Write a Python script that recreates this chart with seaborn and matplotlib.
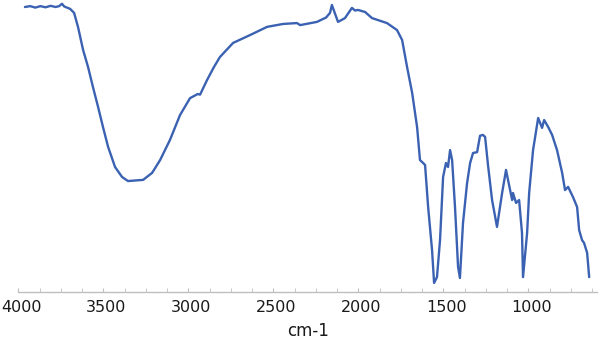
import numpy as np
import pandas as pd
import matplotlib
matplotlib.use("Agg")
import matplotlib.pyplot as plt
from matplotlib.ticker import MultipleLocator
from matplotlib.transforms import ScaledTranslation
import seaborn as sns

# IR spectrum (wavenumber in cm-1, transmittance in arbitrary %)
wavenumber = [3961, 3930, 3900, 3870, 3840, 3810, 3780, 3760, 3743, 3730, 3714, 3696, 3672,
              3649, 3619, 3590, 3561, 3531, 3502, 3472, 3431, 3390, 3355, 3310, 3266, 3213,
              3166, 3108, 3049, 2990, 2945, 2931, 2890, 2850, 2814, 2737, 2637, 2537, 2443,
              2361, 2343, 2244, 2190, 2167, 2156, 2120, 2079, 2038, 2020, 2003, 1961, 1920,
              1832, 1773, 1743, 1714, 1684, 1655, 1638, 1620, 1608, 1590, 1567, 1555, 1538,
              1520, 1502, 1485, 1473, 1461, 1449, 1432, 1414, 1403, 1385, 1361, 1343, 1326,
              1302, 1285, 1268, 1255, 1238, 1214, 1185, 1155, 1132, 1108, 1096, 1091, 1073,
              1055, 1038, 1032, 1008, 996, 973, 943, 920, 908, 884, 861, 832, 802, 785, 767,
              738, 714, 702, 685, 673, 655, 643]
transmittance = [97.6, 97.9, 97.4, 97.9, 97.5, 98.0, 97.6, 97.9, 98.7, 97.8, 97.4, 97.0, 95.6,
                 90.8, 82.9, 77.1, 70.2, 63.4, 56.5, 49.7, 42.8, 39.4, 38.0, 38.2, 38.4, 40.8,
                 45.2, 52.1, 60.6, 66.4, 67.8, 67.6, 72.6, 77.0, 80.5, 85.3, 88.0, 90.8, 91.8,
                 92.1, 91.4, 92.5, 94.0, 95.6, 98.3, 92.5, 93.8, 97.3, 96.4, 96.6, 95.9, 93.8,
                 92.1, 89.7, 86.3, 77.1, 68.2, 56.5, 45.2, 44.2, 43.5, 29.1, 14.4, 3.1, 5.1,
                 17.8, 39.4, 44.2, 42.8, 48.6, 45.2, 29.1, 8.6, 4.8, 23.6, 37.3, 44.2, 47.6,
                 47.9, 53.5, 53.8, 53.1, 43.5, 31.5, 22.3, 33.9, 41.8, 34.9, 31.5, 33.9, 30.5,
                 31.5, 20.2, 5.1, 20.2, 33.9, 48.6, 59.6, 56.2, 58.9, 56.5, 53.8, 48.6, 40.8,
                 34.9, 36.0, 32.5, 29.1, 21.2, 17.8, 16.8, 13.4, 5.1]

xticks = [4000, 3500, 3000, 2500, 2000, 1500, 1000]

df = pd.DataFrame({"wavenumber": wavenumber, "transmittance": transmittance})

sns.set_style("white")
plt.rcParams["font.family"] = ["DejaVu Sans"]

fig = plt.figure(figsize=(6.0, 3.39), dpi=100)
ax = fig.add_axes([18.3 / 600, 1 - 292 / 339, (597 - 18.3) / 600, 292 / 339])

sns.lineplot(data=df, x="wavenumber", y="transmittance", ax=ax, color="#3B62B2",
             linewidth=1.7, sort=False, estimator=None)

ax.set_xlim(4000, 597)
ax.set_ylim(0, 100)
ax.set_xticks(xticks)
ax.set_xticklabels([str(t) for t in xticks])
ax.xaxis.set_minor_locator(MultipleLocator(125))
ax.set_yticks([])
ax.set_ylabel("")
ax.set_xlabel("cm-1", fontsize=12, color="#1a1a1a", labelpad=4.5)

for s in ["top", "left", "right"]:
    ax.spines[s].set_visible(False)
ax.spines["bottom"].set_color("#BFBFBF")
ax.spines["bottom"].set_linewidth(1.0)
ax.tick_params(axis="x", which="both", direction="in", length=3, color="#BFBFBF",
               labelsize=11.5, labelcolor="#1a1a1a", pad=6, bottom=True)

shift = ScaledTranslation(3 / 100, 0, fig.dpi_scale_trans)
for lbl in ax.get_xticklabels():
    lbl.set_transform(lbl.get_transform() + shift)

fig.savefig("out.png", dpi=100)
